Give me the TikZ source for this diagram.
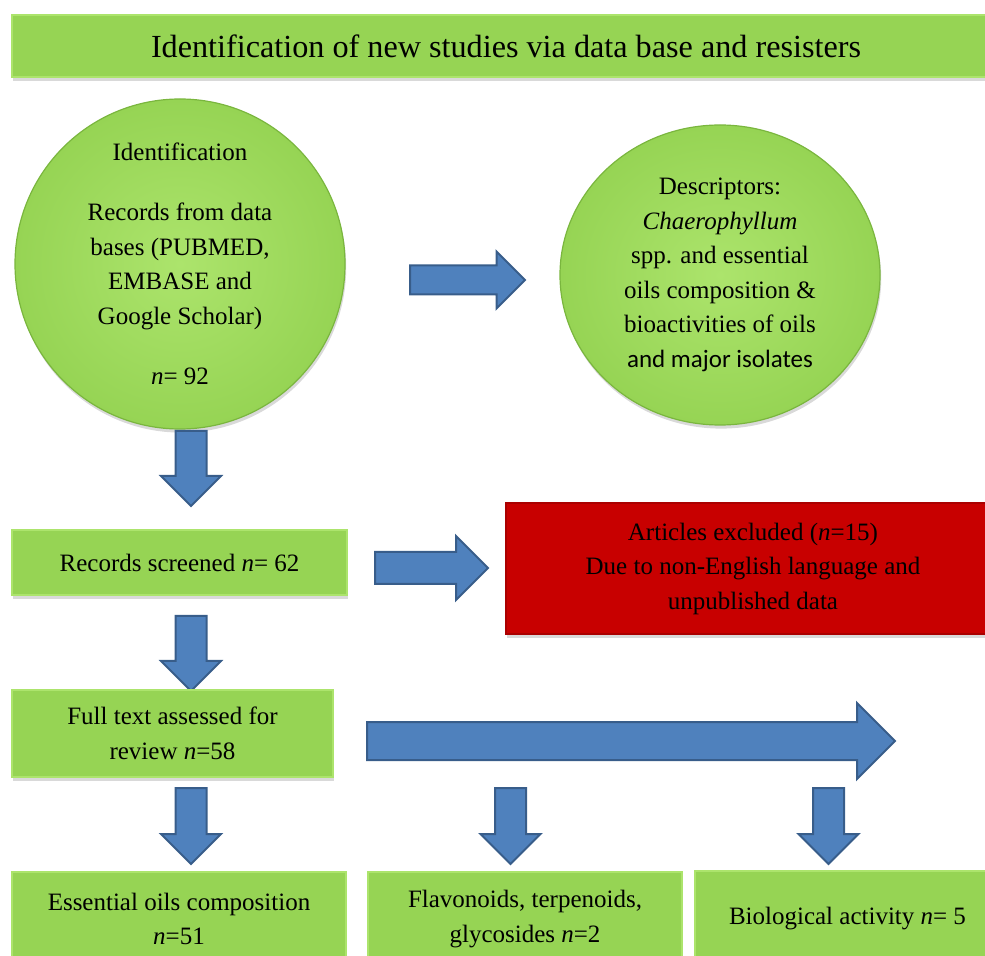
\documentclass[tikz,border=0pt]{standalone}
\usepackage{fontspec}
\setmainfont{Liberation Serif}
\newfontfamily\calibrifont{Carlito}
\usetikzlibrary{shapes.geometric,shapes.arrows,shadows}

\definecolor{boxgreen}{RGB}{150,212,84}
\definecolor{rimgreen}{RGB}{122,182,62}
\definecolor{lightgreen}{RGB}{172,228,108}
\definecolor{exred}{RGB}{200,0,0}
\definecolor{arrowblue}{RGB}{79,129,189}
\definecolor{arrowedge}{RGB}{56,93,138}

\begin{document}
\begin{tikzpicture}[x=0.5pt, y=-0.5pt,
        font=\fontsize{12.5}{17.25}\selectfont,
        greenbox/.style={rectangle, draw=lightgreen, line width=0.6pt, fill=boxgreen,
            align=center, inner sep=0pt,
            drop shadow={opacity=0.3, shadow xshift=0.6pt, shadow yshift=-1.8pt}},
        redbox/.style={greenbox, fill=exred, draw=exred!85!black},
        bubble/.style={draw=rimgreen, line width=0.6pt, inner color=lightgreen,
            outer color=boxgreen, align=center, inner sep=0pt,
            drop shadow={opacity=0.3, shadow xshift=0.6pt, shadow yshift=-1.8pt}},
        % shaft half width = inner ysep, placed by its tail
        blockarrow/.style={single arrow, draw=arrowedge, line width=1pt, fill=arrowblue,
            inner xsep=0pt, single arrow tip angle=90, anchor=tail},
        downarrow/.style={blockarrow, rotate=-90, minimum height=38pt,
            inner ysep=7.25pt, single arrow head extend=7.25pt}
    ]
        % --- 1. Page ---
        \useasboundingbox (0,0) rectangle (985,956);

        % --- 2. Title bar ---
        \node[greenbox, minimum width=494pt, minimum height=31pt,
            font=\fontsize{16.1}{19}\selectfont] (title) at (506,46)
            {Identification of new studies via data base and resisters};

        % --- 3. Identification and descriptors ---
        \node[bubble, circle, minimum size=165pt] (ident) at (180,264)
            {Identification\\[13pt]
             Records from data\\ bases (PUBMED,\\ EMBASE and\\ Google Scholar)\\[13pt]
             \textit{n}= 92};
        \node[bubble, ellipse, minimum width=160pt, minimum height=150pt] (descr) at (720,275)
            {Descriptors:\\ \textit{Chaerophyllum}\\ spp. and essential\\
             oils composition \&\\ bioactivities of oils\\ {\calibrifont and major isolates}};
        \node[blockarrow, minimum height=57.5pt, inner ysep=6.75pt,
            single arrow head extend=7pt] (a1) at (409,280) {};

        % --- 4. Screening ---
        \node[downarrow, minimum height=37.5pt] (d1) at (191,430) {};
        \node[greenbox, minimum width=167.5pt, minimum height=32.5pt] (screened)
            at (179.5,562.5) {Records screened \textit{n}= 62};
        \node[blockarrow, minimum height=56.5pt, inner ysep=7.5pt,
            single arrow head extend=8pt] (a2) at (374,568) {};
        \node[redbox, minimum width=247pt, minimum height=65.5pt] (excluded) at (753,568.5)
            {Articles excluded (\textit{n}=15)\\ Due to non-English language and\\ unpublished data};

        % --- 5. Full text ---
        \node[downarrow, minimum height=37.5pt] (d2) at (191,615) {};
        \node[greenbox, minimum width=160.5pt, minimum height=43.5pt] (fulltext)
            at (172.5,733.5) {Full text assessed for\\ review \textit{n}=58};
        \node[blockarrow, minimum height=264pt, inner ysep=9pt,
            single arrow head extend=9.5pt] (big) at (366,741) {};

        % --- 6. Outcome groups ---
        \node[downarrow] (d3) at (191,787) {};
        \node[downarrow] (d4) at (510.5,787) {};
        \node[downarrow] (d5) at (828.5,787) {};
        \node[greenbox, minimum width=167pt, minimum height=47pt] (essential)
            at (179,919) {Essential oils composition\\ \textit{n}=51};
        \node[greenbox, minimum width=157pt, minimum height=47pt] (flavo)
            at (525,919) {Flavonoids, terpenoids,\\ glycosides \textit{n}=2};
        \node[greenbox, minimum width=152.5pt, minimum height=47.5pt] (bioact)
            at (847.5,918.5) {Biological activity \textit{n}= 5};
\end{tikzpicture}
\end{document}
